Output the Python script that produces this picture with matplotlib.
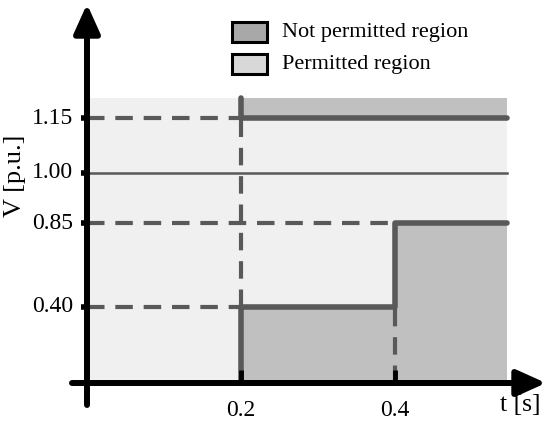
import numpy as np
import matplotlib
matplotlib.use("Agg")
import matplotlib.pyplot as plt
from matplotlib.patches import Rectangle

# ---- data ----
t_ticks = [0.2, 0.4]
t_tick_labels = ["0.2", "0.4"]
v_ticks = [0.40, 0.85, 1.00, 1.15]
v_tick_labels = ["0.40", "0.85", "1.00", "1.15"]
t_end = 0.545
v_top = 1.2
# permitted-region lower boundary (step)
low_t = [0.2, 0.2, 0.4, 0.4, 0.545]
low_v = [0.0, 0.40, 0.40, 0.85, 0.85]
# upper boundary
up_t = [0.2, 0.2, 0.545]
up_v = [1.2, 1.15, 1.15]
nominal_v = 1.00
legend_labels = ["Not permitted region", "Permitted region"]

dark = "#c0c0c0"
light = "#f0f0f0"
leg_dark = "#a8a8a8"
leg_light = "#d8d8d8"
line_c = "#595959"

# schematic (non-linear) voltage axis
vals = [-0.5, 0.0, 0.40, 0.85, 1.00, 1.15, 1.20, 2.0]
pos = [-100, 0, 76, 160, 210, 265, 285, 485]
fwd = lambda v: np.interp(v, vals, pos)
inv = lambda p: np.interp(p, pos, vals)

plt.rcParams["font.family"] = ["Liberation Serif", "DejaVu Serif"]
W, H = 550, 423
fig = plt.figure(figsize=(5.5, 4.23), dpi=100)
axl, axr, axt, axb = 72, 546, 4, 405
ax = fig.add_axes([axl / W, (H - axb) / H, (axr - axl) / W, (axb - axt) / H])
ax.set_yscale("function", functions=(fwd, inv))
x0, sx = 87, 770.0
ax.set_xlim((axl - x0) / sx, (axr - x0) / sx)
yaxis_px = 383
ax.set_ylim(inv(-(axb - yaxis_px)), inv(yaxis_px - axt))
for s in ax.spines.values():
    s.set_visible(False)
ax.set_xticks([])
ax.set_yticks([])

# regions
ax.add_patch(Rectangle((0, 0), t_end, v_top, color=light, lw=0, zorder=1))
ax.fill_between(low_t, 0, low_v, color=dark, lw=0, zorder=2)
ax.fill_between([0.2, t_end], 1.15, v_top, color=dark, lw=0, zorder=2)

# nominal line
ax.plot([0, t_end], [nominal_v, nominal_v], color=line_c, lw=1.8, zorder=3)

# dashed guides
dash = dict(color=line_c, lw=3.0, linestyle=(0, (4.2, 2.6)), zorder=3)
ax.plot([0, 0.2], [1.15, 1.15], **dash)
ax.plot([0, 0.4], [0.85, 0.85], **dash)
ax.plot([0, 0.2], [0.40, 0.40], **dash)
ax.plot([0.2, 0.2], [0.40, 1.15], **dash)
ax.plot([0.4, 0.4], [0.0, 0.40], **dash)

# boundaries
bnd = dict(color=line_c, lw=4.0, solid_capstyle="round", solid_joinstyle="round", zorder=4)
ax.plot(low_t, low_v, **bnd)
ax.plot(up_t, up_v, **bnd)

# axes arrows
aprops = dict(arrowstyle="-|>,head_length=0.8,head_width=0.36", lw=4.3,
              color="black", shrinkA=0, shrinkB=0, mutation_scale=22)
ax.annotate("", xy=(0, 1.0), xycoords=("data", "axes fraction"),
            xytext=(0, 0.0), textcoords=("data", "axes fraction"),
            arrowprops=aprops, zorder=6)
ax.annotate("", xy=(1.0, 0), xycoords=("axes fraction", "data"),
            xytext=(0.0, 0), textcoords=("axes fraction", "data"),
            arrowprops=aprops, zorder=6)

# ticks and labels
fs = 17
for v, lab in zip(v_ticks, v_tick_labels):
    ax.plot([-0.008, 0], [v, v], color="black", lw=4, solid_capstyle="butt", zorder=6)
    ax.text(-0.018, v, lab, ha="right", va="center", fontsize=fs)
for t, lab in zip(t_ticks, t_tick_labels):
    ax.plot([t, t], [0, 0.07], color="black", lw=3.5, solid_capstyle="butt", zorder=6)
    ax.annotate(lab, xy=(t, 0), xytext=(0, -12), textcoords="offset points",
                ha="center", va="top", fontsize=fs)
fig.text(520 / W, 1 - 405 / H, "t [s]", ha="center", va="center", fontsize=18.5)
fig.text(15 / W, 1 - 176 / H, "V [p.u.]", ha="center", va="center", rotation=90, fontsize=19)

# legend (manual)
for i, c in enumerate([leg_dark, leg_light]):
    yc = 32 + 32 * i
    fig.patches.append(Rectangle((232 / W, 1 - (yc + 10) / H), 35 / W, 20 / H, facecolor=c,
                                 edgecolor="black", lw=2.2, transform=fig.transFigure))
for i, lab in enumerate(legend_labels):
    yc = 33 + 32 * i
    fig.text(282 / W, 1 - yc / H, lab, ha="left", va="center", fontsize=16)

fig.savefig("out.png", dpi=100)
